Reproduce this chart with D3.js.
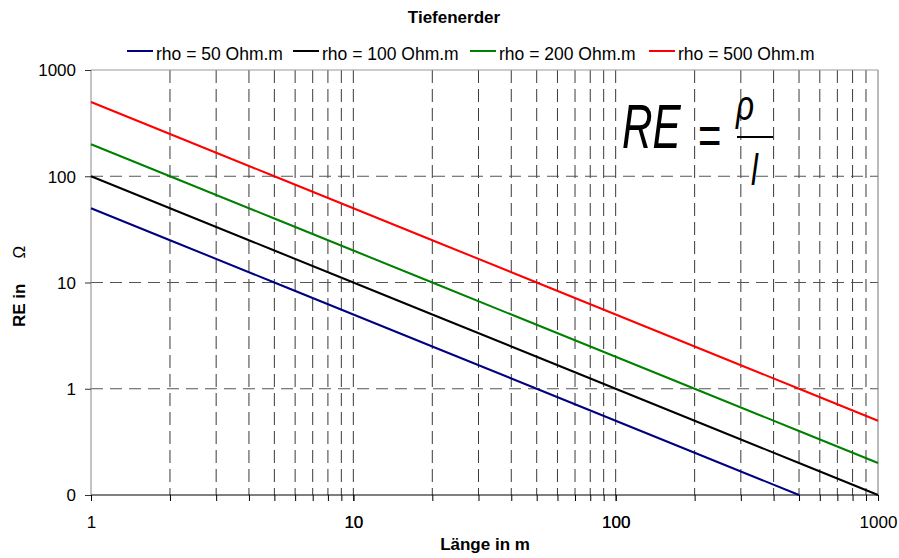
<!DOCTYPE html>
<html>
<head>
<meta charset="utf-8">
<script src="https://cdn.jsdelivr.net/npm/d3@7"></script>
<style>
  body { margin: 0; background: #fff; }
  svg { font-family: "Liberation Sans", Arial, sans-serif; }
</style>
</head>
<body>
<svg id="chart" width="899" height="558"></svg>
<script>
// lengths in m and resistance values
var lengths = [1, 2, 5, 10, 20, 50, 100, 200, 500, 1000];
var re50  = [50, 25, 10, 5, 2.5, 1, 0.5, 0.25, 0.1, null];
var re100 = [100, 50, 20, 10, 5, 2, 1, 0.5, 0.2, 0.1];
var re200 = [200, 100, 40, 20, 10, 4, 2, 1, 0.4, 0.2];
var re500 = [500, 250, 100, 50, 25, 10, 5, 2.5, 1, 0.5];
var seriesNames = ["rho = 50 Ohm.m", "rho = 100 Ohm.m", "rho = 200 Ohm.m", "rho = 500 Ohm.m"];
var seriesColors = ["#000080", "#000000", "#008000", "#ff0000"];
var yTicks = [0.1, 1, 10, 100, 1000];
var yTickLabels = ["0", "1", "10", "100", "1000"];
var xTicks = [1, 10, 100, 1000];

var series = [re50, re100, re200, re500];

var pLeft = 91, pRight = 878, pTop = 70, pBottom = 495;
var svg = d3.select("#chart");

var x = d3.scaleLog().domain([1, 1000]).range([pLeft, pRight]);
var y = d3.scaleLog().domain([0.1, 1000]).range([pBottom, pTop]);

// minor values for vertical grid
var minor = [];
[1, 10, 100].forEach(function(d) {
    for (var k = 2; k <= 9; k++) minor.push(d * k);
});
minor = minor.concat([10, 100]);

svg.append("g").selectAll("line").data(minor).enter().append("line")
    .attr("x1", function(d) { return x(d); }).attr("x2", function(d) { return x(d); })
    .attr("y1", pTop).attr("y2", pBottom)
    .attr("stroke", "#3a3a3a").attr("stroke-width", 1)
    .attr("stroke-dasharray", "13,6");

svg.append("g").selectAll("line").data([1, 10, 100]).enter().append("line")
    .attr("x1", pLeft).attr("x2", pRight)
    .attr("y1", function(d) { return y(d); }).attr("y2", function(d) { return y(d); })
    .attr("stroke", "#555").attr("stroke-width", 1)
    .attr("stroke-dasharray", "12,7");

// frame
svg.append("line").attr("x1", pLeft).attr("x2", pRight).attr("y1", pTop).attr("y2", pTop).attr("stroke", "#999");
svg.append("line").attr("x1", pRight).attr("x2", pRight).attr("y1", pTop).attr("y2", pBottom).attr("stroke", "#777");

// x axis
var xAxis = d3.axisBottom(x).tickValues(minor.concat(xTicks)).tickSize(6)
    .tickFormat(function(d) { return xTicks.indexOf(d) >= 0 ? d3.format("d")(d) : ""; });
var gx = svg.append("g").attr("transform", "translate(0," + pBottom + ")").call(xAxis);
gx.select(".domain").attr("stroke", "#000").attr("d", "M" + pLeft + ",0H" + pRight);
gx.selectAll(".tick line").attr("stroke", "#000");
gx.selectAll(".tick text").attr("font-size", 17).attr("font-family", "Liberation Sans").attr("dy", 0).attr("y", 33).attr("fill", "#000");

// y axis
var yAxis = d3.axisLeft(y).tickValues(yTicks).tickSize(6).tickPadding(9)
    .tickFormat(function(d, i) { return yTickLabels[i]; });
var gy = svg.append("g").attr("transform", "translate(" + pLeft + ",0)").call(yAxis);
gy.select(".domain").attr("stroke", "#888").attr("d", "M0," + pTop + "V" + pBottom);
gy.selectAll(".tick line").attr("stroke", "#333");
gy.selectAll(".tick text").attr("font-size", 17).attr("font-family", "Liberation Sans").attr("dy", "0.35em").attr("fill", "#000");

// data lines
var line = d3.line()
    .defined(function(d) { return d[1] != null; })
    .x(function(d) { return x(d[0]); })
    .y(function(d) { return y(d[1]); });

series.forEach(function(s, i) {
    svg.append("path")
        .datum(lengths.map(function(l, j) { return [l, s[j]]; }))
        .attr("d", line)
        .attr("fill", "none")
        .attr("stroke", seriesColors[i])
        .attr("stroke-width", 2);
});

// title
svg.append("text").attr("x", 454).attr("y", 23).attr("text-anchor", "middle")
    .attr("font-size", 17).attr("font-weight", "bold").text("Tiefenerder");

// legend
var legendX = [127, 293, 470, 649];
legendX.forEach(function(lx, i) {
    svg.append("line").attr("x1", lx).attr("x2", lx + 26).attr("y1", 51).attr("y2", 51)
        .attr("stroke", seriesColors[i]).attr("stroke-width", 2);
    svg.append("text").attr("x", lx + 29).attr("y", 60).attr("font-size", 17.5).text(seriesNames[i]);
});

// axis titles
svg.append("text").attr("x", 485).attr("y", 550).attr("text-anchor", "middle")
    .attr("font-size", 17).attr("font-weight", "bold").text("Länge in m");

var yl = svg.append("text").attr("transform", "translate(25,327) rotate(-90)").attr("font-size", 17);
yl.append("tspan").attr("font-weight", "bold").text("RE in");
yl.append("tspan").attr("dx", 25).text("Ω");

// formula RE = rho / l
function ftext(tx, ty, size, sx, sy, italic, str) {
    svg.append("text")
        .attr("transform", "translate(" + tx + "," + ty + ") scale(" + sx + "," + sy + ")")
        .attr("font-size", size)
        .attr("font-style", italic ? "italic" : "normal")
        .text(str);
}
ftext(622, 148, 48, 0.88, 1.33, true, "RE");
ftext(698, 154, 40, 1, 1.4, false, "=");
ftext(736, 120, 30, 1.05, 1.4, true, "ρ");
svg.append("line").attr("x1", 737).attr("x2", 773).attr("y1", 137).attr("y2", 137)
    .attr("stroke", "#000").attr("stroke-width", 2);
ftext(751, 185, 31, 1, 1.45, true, "l");
</script>
</body>
</html>
